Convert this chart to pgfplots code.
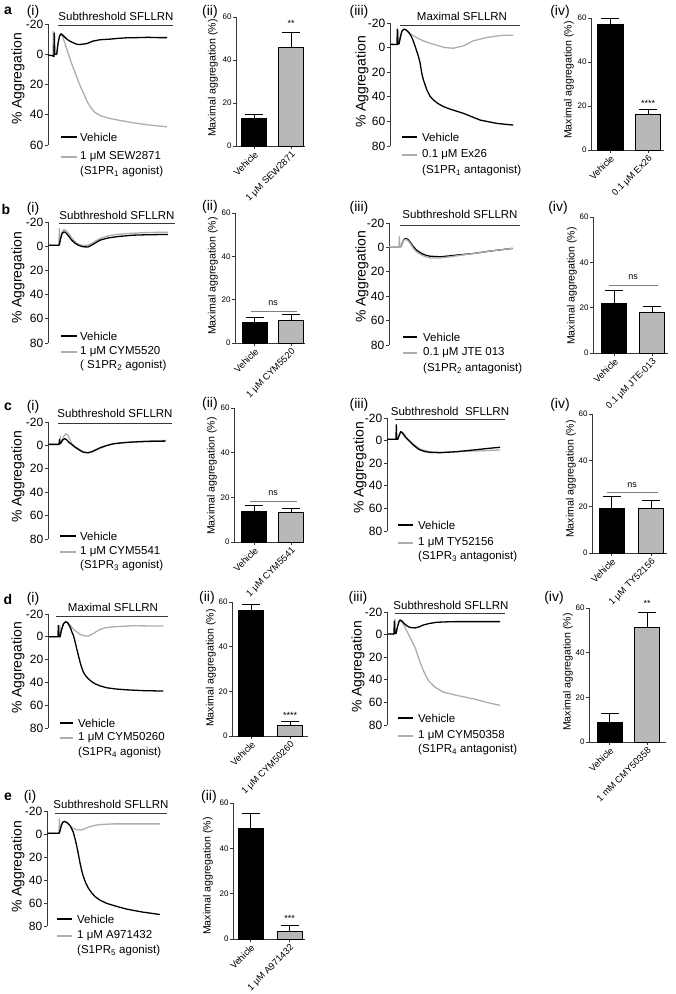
\documentclass[border=0pt]{standalone}
\usepackage{fontspec}
\setmainfont{Liberation Sans}
\usepackage{pgfplots}
\pgfplotsset{compat=1.18}
\definecolor{axc}{gray}{0.22}
\definecolor{gtr}{gray}{0.68}
\definecolor{gbar}{gray}{0.72}
\definecolor{nsc}{gray}{0.5}
\newcommand\fs[1]{\fontsize{#1}{#1}\selectfont}
\pgfplotsset{
 tr/.style={scale only axis, anchor=center, axis x line=none, axis y line*=left, y dir=reverse,
   xmin=0, ymin=-20, ymax=#1, ytick={-20,0,...,#1}, tick align=outside, major tick length=3pt,
   every tick/.style={axc, line width=0.8pt}, axis line style={axc, line width=0.9pt},
   yticklabel style={font=\fs{12}, inner sep=1.5pt}, /pgf/number format/assume math mode=true, clip=false},
 br/.style={scale only axis, anchor=south west, axis x line*=bottom, axis y line*=left,
   xmin=0, ymin=0, ymax=60, ytick={0,20,40,60}, tick align=outside, major tick length=3pt,
   every tick/.style={axc, line width=0.8pt}, axis line style={axc, line width=0.9pt},
   yticklabel style={font=\fs{8}, inner sep=1.2pt},
   xticklabel style={font=\fs{9.3}, rotate=45, anchor=north east, inner sep=1pt},
   /pgf/number format/assume math mode=true, clip=false},
 bk/.style={black, line width=1.3pt, line join=round, mark=none},
 gy/.style={gtr, line width=1.3pt, line join=round, mark=none},
 vb/.style={ybar, bar shift=0pt, bar width=25, fill=black, draw=black, line width=0.8pt,
   error bars/y dir=plus, error bars/y explicit,
   error bars/error bar style={line width=0.9pt, black},
   error bars/error mark options={rotate=90, line width=0.9pt, mark size=9pt, black}},
 gb/.style={vb, fill=gbar},
}
\newcommand\legd[8]{%
 \draw[black,line width=1.3pt] (#1pt,-#4pt) -- (#2pt,-#4pt);
 \node[anchor=west,font=\fs{11.5},inner sep=0pt] at (#3pt,-#4pt) {Vehicle};
 \draw[gtr,line width=1.3pt] (#1pt,-#5pt) -- (#2pt,-#5pt);
 \node[anchor=west,font=\fs{11.5},inner sep=0pt] at (#3pt,-#5pt) {#7};
 \node[anchor=west,font=\fs{11.5},inner sep=0pt] at (#3pt,-#6pt) {#8};}
\newcommand\ttl[6]{%
 \draw[axc, line width=0.9pt] (#1pt,-#3pt) -- (#2pt,-#3pt);
 \node[font=\fs{11.5},inner sep=0pt] at (#4pt,-#5pt) {#6};}
\newcommand\pl[3]{\node[font=\fs{14},inner sep=0pt] at (#1pt,-#2pt) {#3};}
\newcommand\pL[3]{\node[font=\fs{14}\bfseries,inner sep=0pt] at (#1pt,-#2pt) {#3};}
\newcommand\ylt[2]{\node[font=\fs{14},rotate=90,inner sep=0pt] at (#1pt,-#2pt) {\% Aggregation};}
\newcommand\ylb[2]{\node[font=\fs{10.6},rotate=90,inner sep=0pt] at (#1pt,-#2pt) {Maximal aggregation (\%)};}
\begin{document}
\begin{tikzpicture}
\useasboundingbox (0pt,0pt) rectangle (676pt,-994pt);

%================ ROW a ================
\pL{8}{11}{a}\pl{33}{12}{(i)}\pl{210}{12}{(ii)}\pl{359}{12}{(iii)}\pl{560}{12}{(iv)}
\ylt{18}{79}
\ttl{58}{173}{25}{116}{16}{Subthreshold SFLLRN}
\begin{axis}[tr=60, at={(110.5pt,-84.5pt)}, width=125pt, height=121pt, xmax=125]
\addplot[gy] coordinates {(0,0.5)(5,1)(5.3,-15)(5.8,0)(8.7,0)(10,-7)(11.5,-12)(13,-13.5)(15,-11)(17,-7)(20,-1)(23,5)(27,12)(31,19)(35,25)(39,31)(43,35.5)(47,38.5)(52,40.5)(60,42.2)(70,43.5)(85,45.3)(100,46.7)(119,48)};
\addplot[bk] coordinates {(0,0.5)(5,1)(6,1.5)(6.3,-14)(6.8,0)(8.7,0)(10,-7)(11.5,-12)(13,-13.5)(15,-12.5)(18,-10.5)(21,-9)(24,-8)(28,-6.8)(31,-6.4)(35,-6.7)(39,-7.1)(45,-8.7)(52,-9.6)(62,-10)(70,-10.5)(79,-10.9)(90,-11)(100,-11.2)(110,-11)(119,-11)};
\end{axis}
\legd{61}{77}{80}{137}{157}{172}{1 μM SEW2871}{(S1PR\textsubscript{1} agonist)}
\ylb{213}{78}
\begin{axis}[br, at={(236pt,-146pt)}, width=69pt, height=129pt, xmax=69, xtick={18,55}, xticklabels={Vehicle,1 μM SEW2871}]
\addplot[vb] coordinates {(18,12.9) +- (0,2.0)};
\addplot[gb] coordinates {(55,45.9) +- (0,7.0)};
\node[font=\fs{9}] at (axis cs:55,57) {**};
\end{axis}

\ylt{362}{82}
\ttl{400}{520}{25}{462}{16}{Maximal SFLLRN}
\begin{axis}[tr=80, at={(455pt,-84.5pt)}, width=130pt, height=123pt, xmax=130]
\addplot[gy] coordinates {(0,-2.7)(8,-2.5)(8.3,-14)(8.8,-3)(9,-3)(10.5,-9)(12,-13.5)(14,-15)(16,-14)(19,-12)(23.3,-9.6)(28,-7.5)(33.3,-5.5)(43.3,-2.7)(55,0)(63.3,0.5)(73.3,-1.4)(83.3,-5.5)(96.7,-8.2)(113.3,-10.1)(123.3,-10.1)};
\addplot[bk] coordinates {(0,-2.7)(7,-2.5)(7.3,-15)(7.8,-3)(9,-3)(10.5,-9)(12,-13.5)(14,-15)(16,-14.5)(18,-13)(20,-11)(22.5,-7)(25,-1.4)(28.3,6.8)(30,12)(31.7,20.5)(33.3,26)(35,30)(36.7,34.2)(40,39.5)(43.3,42.5)(48,45.5)(53.3,47.9)(60,50)(73.3,53.4)(90,58.9)(106.7,61.6)(123.3,63)};
\end{axis}
\legd{402}{417}{422}{137}{155}{171}{0.1 μM Ex26}{(S1PR\textsubscript{1} antagonist)}
\ylb{569}{80}
\begin{axis}[br, at={(591pt,-150pt)}, width=73pt, height=132pt, xmax=73, xtick={19,57}, xticklabels={Vehicle,0.1 μM Ex26}]
\addplot[vb, bar width=26] coordinates {(19,57.1) +- (0,2.9)};
\addplot[gb] coordinates {(57,16.3) +- (0,2.1)};
\node[font=\fs{9}] at (axis cs:57,21) {****};
\end{axis}

%================ ROW b ================
\pL{6}{209}{b}\pl{33}{209}{(i)}\pl{210}{207}{(ii)}\pl{359}{208}{(iii)}\pl{558}{208}{(iv)}
\ylt{18}{278}
\ttl{59}{175}{223}{117}{215}{Subthreshold SFLLRN}
\begin{axis}[tr=80, at={(111.5pt,-282.5pt)}, width=127pt, height=121pt, xmax=127]
\addplot[gy] coordinates {(0,-0.8)(11,-0.8)(11.3,-14.6)(11.8,-1)(12.5,-6)(14,-11.5)(16,-13.8)(18,-13)(21,-10)(24,-6.5)(28,-3)(32,-1)(37,-0.5)(42,-1.5)(52,-6.4)(60,-8.5)(68.7,-9.7)(80,-10.5)(92,-11)(105,-11.4)(120,-11.6)};
\addplot[bk] coordinates {(0,-0.8)(11,-0.8)(12.5,-6)(14,-10.5)(16,-11.9)(18,-11)(21,-8)(23.7,-5)(27,-2.5)(30.3,-0.8)(35,0.5)(40,0.6)(45,-1.5)(52,-5)(60,-6.8)(70,-8)(85,-9.1)(100,-9.5)(120,-9.7)};
\end{axis}
\legd{61}{77}{80}{336}{352}{366}{1 μM CYM5520}{( S1PR\textsubscript{2} agonist)}
\ylb{213}{276}
\begin{axis}[br, at={(235pt,-343pt)}, width=70pt, height=130pt, xmax=70, xtick={19.5,56}, xticklabels={Vehicle,1 μM CYM5520}]
\addplot[vb] coordinates {(19.5,9.5) +- (0,2.3)};
\addplot[gb] coordinates {(56,10.3) +- (0,3.1)};
\draw[nsc, line width=0.9pt] (axis cs:16,14.6) -- (axis cs:62,14.6);
\node[font=\fs{9}] at (axis cs:38,18.5) {ns};
\end{axis}

\ylt{362}{277}
\ttl{400}{520}{225}{460}{214}{Subthreshold SFLLRN}
\begin{axis}[tr=80, at={(454.5pt,-284pt)}, width=131pt, height=122pt, xmax=131]
\addplot[bk] coordinates {(0,-0.6)(12,-0.6)(13.5,-4)(15,-6.5)(17,-7.4)(19,-6.5)(21.5,-4)(24.3,-0.6)(28,2.5)(32.7,5)(37,6.5)(41,7.2)(51,7.7)(60,7)(67.7,6.3)(84.3,5)(101,3)(123.7,0.8)};
\addplot[gy] coordinates {(0,-0.6)(10,-0.6)(10.3,-8.8)(10.8,-0.6)(12,-0.6)(13.5,-3.5)(15,-6)(17,-6.6)(19,-5.5)(21.5,-3)(24.3,0.8)(28,4)(32.7,6.3)(37,7.8)(41,8.6)(51,8.6)(60,7.8)(67.7,6.9)(84.3,5)(101,3)(123.7,0.8)};
\end{axis}
\legd{403}{417}{423}{337}{353}{369}{0.1 μM JTE 013}{(S1PR\textsubscript{2} antagonist)}
\ylb{572}{286}
\begin{axis}[br, at={(593pt,-353pt)}, width=75pt, height=136pt, xmax=75, xtick={21,59}, xticklabels={Vehicle,0.1 μM JTE-013}]
\addplot[vb] coordinates {(21,21.7) +- (0,6.1)};
\addplot[gb] coordinates {(59,17.9) +- (0,2.6)};
\draw[nsc, line width=0.9pt] (axis cs:16,30) -- (axis cs:65,30);
\node[font=\fs{9}] at (axis cs:40,33.6) {ns};
\end{axis}

%================ ROW c ================
\pL{8}{407}{c}\pl{33}{407}{(i)}\pl{210}{404}{(ii)}\pl{359}{405}{(iii)}\pl{560}{405}{(iv)}
\ylt{18}{477}
\ttl{58}{172}{423}{115}{413}{Subthreshold SFLLRN}
\begin{axis}[tr=80, at={(110pt,-480.5pt)}, width=124pt, height=117pt, xmax=124]
\addplot[gy] coordinates {(0,-0.9)(12,-0.9)(12.3,-8)(12.8,-1.5)(14,-4)(16,-8)(18,-10)(20,-8.5)(22,-5)(23.7,-1.4)(27,1)(30.3,2.6)(35,5.5)(40,6.3)(43.7,5.7)(52,2.6)(58,0.3)(65.3,-1.4)(75,-2.3)(85.3,-3.1)(100,-3.8)(117.7,-4.3)};
\addplot[bk] coordinates {(0,-0.9)(11,-0.9)(11.5,-5)(12,-1.5)(13.5,-3)(15,-5)(17,-5.7)(19,-4.5)(21,-2.5)(23.7,-0.9)(27,1.5)(30.3,3.4)(35,5.7)(40,6.3)(43.7,5.4)(48,3.7)(52,2)(58,0.3)(65.3,-1.4)(75,-2.3)(85.3,-2.9)(100,-3.4)(117.7,-3.7)};
\end{axis}
\legd{60}{76}{80}{536}{552}{566}{1 μM CYM5541}{(S1PR\textsubscript{3} agonist)}
\ylb{212}{476}
\begin{axis}[br, at={(234pt,-542pt)}, width=70pt, height=134pt, xmax=70, xtick={20,57}, xticklabels={Vehicle,1 μM CYM5541}]
\addplot[vb] coordinates {(20,13.9) +- (0,2.3)};
\addplot[gb] coordinates {(57,13.2) +- (0,1.8)};
\draw[nsc, line width=0.9pt] (axis cs:16,18.3) -- (axis cs:63,18.3);
\node[font=\fs{9}] at (axis cs:39,22) {ns};
\end{axis}

\ylt{360}{468}
\ttl{395}{505}{419}{450}{411}{Subthreshold\ \ SFLLRN}
\begin{axis}[tr=80, at={(446pt,-474.5pt)}, width=118pt, height=113pt, xmax=118]
\addplot[gy] coordinates {(0,-1.2)(11,-1.2)(12.5,-5)(13.7,-7.1)(15.5,-6)(17.5,-3.5)(19.7,-1.5)(23,0.5)(26.3,3)(30,5.5)(33,7.4)(38,8.8)(43,9.8)(53,10.4)(69.7,9.8)(86.3,9.2)(100,8.8)(113,8.3)};
\addplot[bk] coordinates {(0,-1.2)(9,-1.2)(9.3,-14)(9.8,-1)(11,-1.5)(12.5,-5.5)(13.7,-8)(15.5,-7)(17.5,-4.5)(19.7,-2.1)(23,1)(26.3,3.9)(30,6.5)(33,8.3)(38,9.7)(43,10.4)(53,10.7)(69.7,9.8)(86.3,8.3)(100,7)(113,5.9)};
\end{axis}
\legd{398}{413}{418}{525}{543}{557}{1 μM TY52156}{(S1PR\textsubscript{3} antagonist)}
\ylb{571}{479}
\begin{axis}[br, at={(592pt,-553pt)}, width=75pt, height=139pt, xmax=75, xtick={19.5,59}, xticklabels={Vehicle,1 μM TY52156}]
\addplot[vb] coordinates {(19.5,19.1) +- (0,5.4)};
\addplot[gb] coordinates {(59,19.4) +- (0,3.3)};
\draw[nsc, line width=0.9pt] (axis cs:15,26.2) -- (axis cs:66,26.2);
\node[font=\fs{9}] at (axis cs:40,29.5) {ns};
\end{axis}

%================ ROW d ================
\pL{8}{599}{d}\pl{33}{599}{(i)}\pl{207}{598}{(ii)}\pl{358}{598}{(iii)}\pl{554}{598}{(iv)}
\ylt{18}{668}
\ttl{56}{168}{616}{113}{607}{Maximal SFLLRN}
\begin{axis}[tr=80, at={(108pt,-671pt)}, width=120pt, height=114pt, xmax=120]
\addplot[gy] coordinates {(0,0)(11.5,0)(11.8,-10)(12.3,0)(13.5,-6)(15.5,-11.5)(17.7,-13.2)(19.5,-12.5)(22,-10.3)(25,-7)(28.7,-4.4)(32,-2.2)(35.3,-1)(40.3,-0.6)(45.3,-2.9)(52,-6.5)(58,-8)(65.3,-8.8)(85.3,-9.7)(115.3,-9.4)};
\addplot[bk] coordinates {(0,0)(10,0)(10.3,-10)(10.8,0)(12,0)(13.5,-6)(15.5,-11.5)(17.7,-13.2)(19.5,-12.5)(22,-8.8)(24,-4)(25.3,-1.5)(27,4)(28.7,10.3)(30.3,16)(32,22)(33.7,27)(35.3,30.9)(37.5,34)(40.3,36.8)(43.5,39.2)(47,41.2)(52,43)(58.7,44.7)(68,45.8)(78.7,46.5)(95,47.2)(115.3,47.6)};
\end{axis}
\legd{60}{73}{78}{723}{738}{753}{1 μM CYM50260}{(S1PR\textsubscript{4} agonist)}
\ylb{211}{668}
\begin{axis}[br, at={(232pt,-736pt)}, width=76pt, height=134pt, xmax=76, xtick={19,58}, xticklabels={Vehicle,1 μM CYM50260}]
\addplot[vb] coordinates {(19,56.3) +- (0,2.5)};
\addplot[gb] coordinates {(58,4.8) +- (0,1.8)};
\node[font=\fs{9}] at (axis cs:58,9.3) {****};
\end{axis}

\ylt{358}{667}
\ttl{395}{505}{613}{451}{605}{Subthreshold SFLLRN}
\begin{axis}[tr=80, at={(446pt,-668.5pt)}, width=118pt, height=113pt, xmax=118]
\addplot[gy] coordinates {(0,-0.6)(7.7,-0.6)(8,-13.8)(8.5,-1)(9,-1)(10.5,-7)(12,-11.5)(13,-12.9)(15,-11)(18,-6.5)(20.5,-2)(23,2.4)(25.5,7)(28,11.2)(31.3,20)(34,26.5)(36.3,31.8)(41.3,40.6)(48,46.5)(56.3,50.9)(69.7,53.8)(86.3,56.8)(100,60)(113,62.6)};
\addplot[bk] coordinates {(0,-0.6)(7,-0.6)(7.3,-12)(7.8,-1)(9,-1)(10.5,-7)(12,-11.5)(13,-12.9)(15,-12)(17,-10)(19.7,-7.9)(23,-6.3)(28,-5.9)(32,-6.8)(36.3,-8.5)(42,-9.8)(49.7,-10.9)(60,-11.3)(69.7,-11.5)(90,-11.5)(113,-11.5)};
\end{axis}
\legd{398}{413}{418}{718}{736}{750}{1 μM CYM50358}{(S1PR\textsubscript{4} antagonist)}
\ylb{568}{672}
\begin{axis}[br, at={(589pt,-742pt)}, width=77pt, height=134pt, xmax=77, xtick={20.5,58}, xticklabels={Vehicle,1 mM CMY50358}]
\addplot[vb] coordinates {(20.5,9) +- (0,4)};
\addplot[gb] coordinates {(58,51.3) +- (0,6.5)};
\node[font=\fs{9}] at (axis cs:58,62) {**};
\end{axis}

%================ ROW e ================
\pL{8}{797}{e}\pl{30}{797}{(i)}\pl{209}{797}{(ii)}
\ylt{18}{867}
\ttl{55}{167}{813}{111}{804}{Subthreshold SFLLRN}
\begin{axis}[tr=80, at={(107pt,-868.5pt)}, width=120pt, height=115pt, xmax=120]
\addplot[gy] coordinates {(0,-0.6)(12,-0.6)(12.3,-13.2)(12.8,-1)(13,-3)(14.5,-8)(16,-10.5)(18,-10.9)(20,-9.5)(23,-7.4)(26,-5)(29.7,-3.8)(34.7,-3.5)(41.3,-5.9)(47,-7.4)(53,-8.2)(66.3,-8.8)(90,-8.8)(113,-8.8)};
\addplot[bk] coordinates {(0,-0.6)(12,-0.6)(13,-3)(14.5,-8)(16,-10.5)(18,-10.9)(20,-10)(23,-7.4)(25,-4)(26.3,-1.5)(28,4)(29.7,10.3)(31.5,18)(33,25)(34.5,31)(36.3,36.8)(38.5,42)(41.3,47)(44.5,51)(48,54.4)(53,57.5)(59.7,60.3)(70,63)(79.7,65.3)(95,67.8)(113,70)};
\end{axis}
\legd{57}{72}{77}{919}{936}{951}{1 μM A971432}{(S1PR\textsubscript{5} agonist)}
\ylb{208}{876}
\begin{axis}[br, at={(233pt,-939pt)}, width=72pt, height=136pt, xmax=72, xtick={17.5,56.5}, xticklabels={Vehicle,1 μM A971432}]
\addplot[vb] coordinates {(17.5,49) +- (0,6.6)};
\addplot[gb] coordinates {(56.5,3.5) +- (0,2.7)};
\node[font=\fs{9}] at (axis cs:56.5,9.3) {***};
\end{axis}
\end{tikzpicture}
\end{document}
